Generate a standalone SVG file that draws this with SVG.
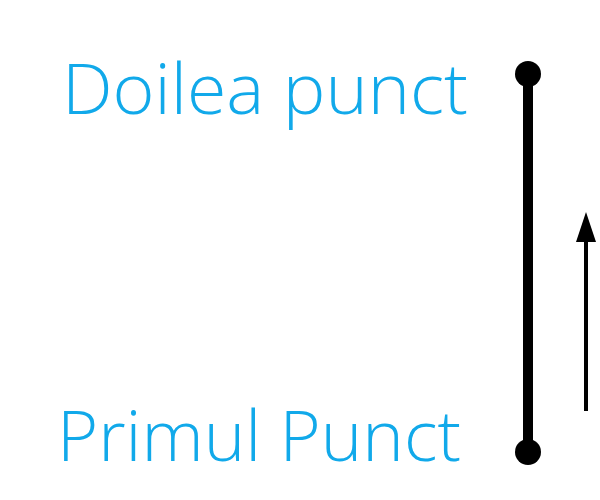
<svg xmlns="http://www.w3.org/2000/svg" width="600" height="500" viewBox="0 0 600 500">
  <style>
    .lbl { font-family: "Open Sans", "Noto Sans", "DejaVu Sans", sans-serif; font-size: 70px; font-weight: 300; fill: #11A9EA; }
    .pt { fill: #000; }
  </style>
  <rect width="600" height="500" fill="#fff"/>
  <g id="connectors">
    <line id="segment" x1="528" y1="74" x2="528" y2="452" stroke="#000" stroke-width="10"/>
    <line id="direction" x1="586" y1="411" x2="586" y2="240" stroke="#000" stroke-width="4"/>
    <path id="direction-head" d="M576,242 L586,212 L596,242 Z" fill="#000"/>
  </g>
  <g id="point2">
    <circle class="pt" cx="528" cy="74" r="13"/>
    <text class="lbl" x="62" y="114" textLength="406" lengthAdjust="spacingAndGlyphs">Doilea punct</text>
  </g>
  <g id="point1">
    <circle class="pt" cx="528" cy="452" r="13"/>
    <text class="lbl" x="57" y="461" textLength="404" lengthAdjust="spacingAndGlyphs">Primul Punct</text>
  </g>
</svg>
